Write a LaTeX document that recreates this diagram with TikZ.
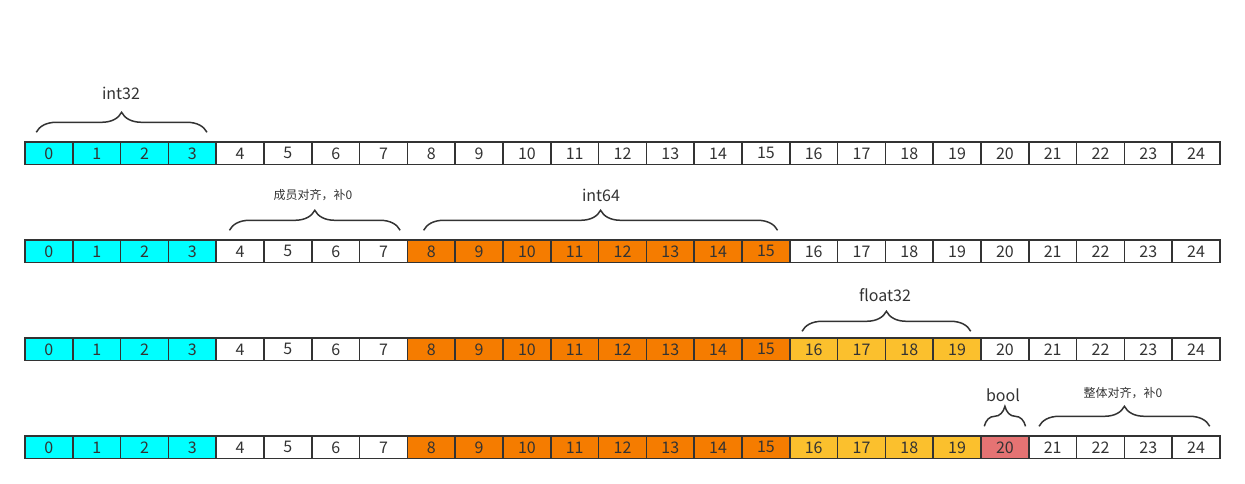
\documentclass[tikz,border=0pt]{standalone}
\usepackage{fontspec}
\setmainfont{Noto Sans CJK SC}
\usepackage{tikz}
\usetikzlibrary{decorations.pathreplacing}
\usepackage{xcolor}
\definecolor{lineg}{HTML}{333333}
\definecolor{cint32}{HTML}{00FFFF}
\definecolor{cint64}{HTML}{F57C00}
\definecolor{cfloat}{HTML}{FBC02D}
\definecolor{cbool}{HTML}{E57373}

\begin{document}
\begin{tikzpicture}[x=1pt,y=-1pt,line width=1.5pt,
    cell/.style={draw=lineg,minimum width=47.8pt,minimum height=22.5pt,inner sep=0pt,
      text=lineg,font=\fontsize{16}{16}\selectfont},
    brc/.style={decorate,decoration={brace,amplitude=20pt},draw=lineg},
    lbl/.style={text=lineg,font=\fontsize{16}{16}\selectfont},
    slbl/.style={text=lineg,font=\fontsize{12}{12}\selectfont}]
  \useasboundingbox (0,0) rectangle (1245,484);

  \foreach \r in {1,...,4}{
    \foreach \i in {0,...,24}{
      \def\fc{white}
      \ifnum\i<4 \def\fc{cint32}\fi
      \ifnum\r>1 \ifnum\i>7 \ifnum\i<16 \def\fc{cint64}\fi\fi\fi
      \ifnum\r>2 \ifnum\i>15 \ifnum\i<20 \def\fc{cfloat}\fi\fi\fi
      \ifnum\r>3 \ifnum\i=20 \def\fc{cbool}\fi\fi
      \node[cell,fill=\fc] (r\r c\i) at ({48.9+47.8*\i},{153.3+98*(\r-1)}) {\i};
    }
  }

  % row 1
  \draw[brc] ([xshift=12pt,yshift=9pt]r1c0.north west) -- ([xshift=-10pt,yshift=9pt]r1c3.north east);
  \node[lbl] (int32) at (121,93) {int32};

  % row 2
  \draw[brc] ([xshift=14pt,yshift=9pt]r2c4.north west) -- ([xshift=-8pt,yshift=9pt]r2c7.north east);
  \node[slbl] (pad1) at (313,195) {成员对齐，补0};
  \draw[brc] ([xshift=17pt,yshift=9pt]r2c8.north west) -- ([xshift=-13pt,yshift=9pt]r2c15.north east);
  \node[lbl] (int64) at (601,195) {int64};

  % row 3
  \draw[brc] ([xshift=13pt,yshift=6pt]r3c16.north west) -- ([xshift=-11pt,yshift=6pt]r3c19.north east);
  \node[lbl] (float32) at (885,295) {float32};

  % row 4
  \draw[brc] ([xshift=4pt,yshift=9pt]r4c20.north west) -- ([xshift=-4pt,yshift=9pt]r4c20.north east);
  \node[lbl] (bool) at (1003,395) {bool};
  \draw[brc] ([xshift=11pt,yshift=9pt]r4c21.north west) -- ([xshift=-11pt,yshift=9pt]r4c24.north east);
  \node[slbl] (pad2) at (1123,393) {整体对齐，补0};
\end{tikzpicture}
\end{document}
